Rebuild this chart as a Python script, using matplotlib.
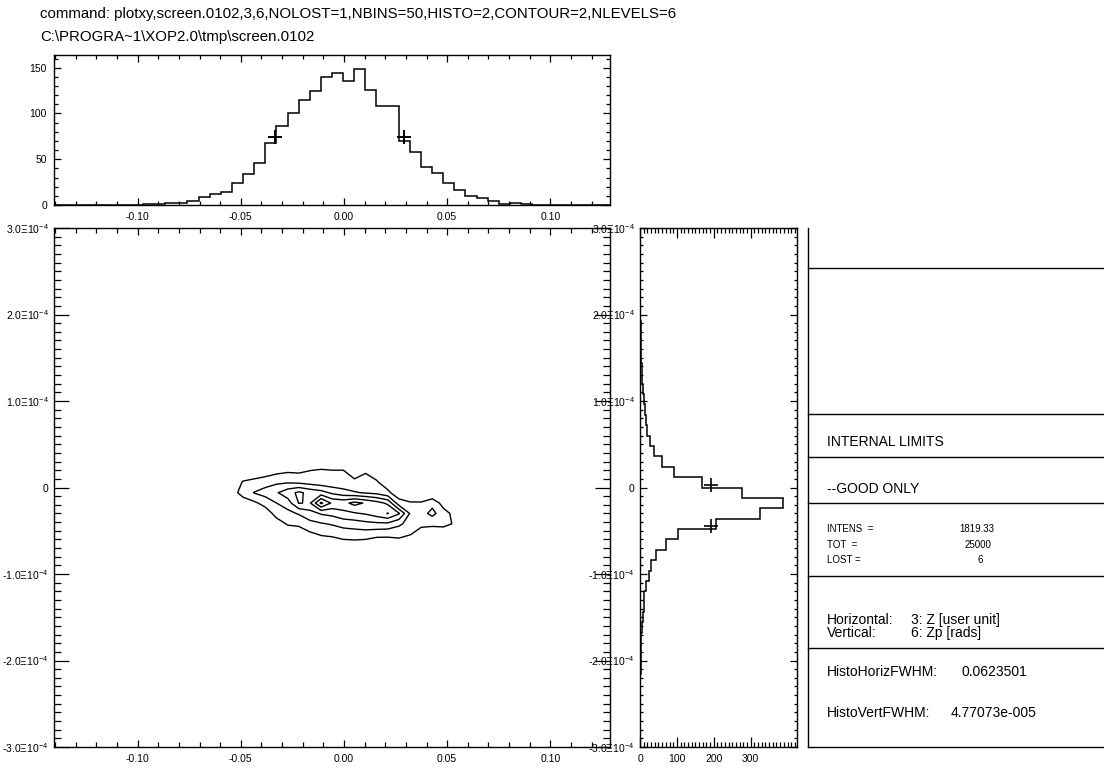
import numpy as np
import matplotlib
matplotlib.use("Agg")
import matplotlib.pyplot as plt
from matplotlib.ticker import MultipleLocator, FuncFormatter, FixedLocator

plt.rcParams['font.family'] = ['Liberation Sans', 'DejaVu Sans']
plt.rcParams['axes.unicode_minus'] = False
plt.rcParams['mathtext.fontset'] = 'custom'
plt.rcParams['mathtext.rm'] = 'Liberation Sans'
plt.rcParams['mathtext.it'] = 'Liberation Sans:italic'
plt.rcParams['mathtext.bf'] = 'Liberation Sans:bold'
plt.rcParams['mathtext.default'] = 'regular'

W, H = 1104, 772

# ---------------- data ----------------
command_line = "command: plotxy,screen.0102,3,6,NOLOST=1,NBINS=50,HISTO=2,CONTOUR=2,NLEVELS=6"
file_line = "C:\\PROGRA~1\\XOP2.0\\tmp\\screen.0102"

z_limits = (-0.1405, 0.1289)     # column 3: Z [user unit]
zp_limits = (-3.0e-4, 3.0e-4)    # column 6: Zp [rads]
n_bins = 50

# histogram of Z (50 bins across z_limits)
horiz_counts = [0, 0, 0, 0, 0, 0, 0, 0, 1, 1,
                2, 2.5, 4, 9, 12, 14, 24, 34, 46, 68,
                86, 101, 115, 125, 140, 144, 135, 149, 126, 108,
                108, 70, 58, 41, 35, 24, 16, 10, 8, 4,
                1, 2, 1, 0, 0, 0, 0, 0, 0, 0]

# histogram of Zp (50 bins across zp_limits, bottom to top)
vert_counts = [0, 0, 0, 0, 0, 0, 1, 2, 3, 3,
               4, 6, 7, 10, 12, 17, 24, 31, 43, 71,
               102, 206, 325, 387, 276, 169, 93, 60, 38, 28,
               19, 15, 13, 10, 9, 6, 6, 3, 3, 2,
               2, 1, 0, 0, 0, 0, 0, 0, 0, 0]

horiz_fwhm = 0.0623501
vert_fwhm = 4.77073e-05
horiz_fwhm_start = -0.0334
vert_fwhm_top = 0.03e-4

# 2D intensity map (binned Z vs Zp), one list per Z column, Zp from top to bottom
z_centers = -0.0596 + 0.00539 * np.arange(23)
zp_centers = 0.42e-4 - 0.12e-4 * np.arange(11)
intensity_columns = [
    [0, 0, 0, 0, 0, 0, 0, 0, 0, 0, 0],
    [0, 0, 0, 3, 6, 0, 0, 0, 0, 0, 0],
    [0, 0, 3, 11, 14, 5, 0, 0, 0, 0, 0],
    [0, 0, 4, 13, 20.5, 8, 0, 0, 0, 0, 0],
    [0, 0, 5, 16, 24, 14, 4, 0, 0, 0, 0],
    [0, 0, 8, 18, 29, 20, 14, 5, 0, 0, 0],
    [0, 2, 9.5, 19, 36, 25, 17, 11, 3, 0, 0],
    [0, 2, 9, 18, 42, 40.5, 21, 12, 4, 0, 0],
    [0, 3, 11, 16, 37, 39, 26, 17, 8, 2, 0],
    [0, 4, 12, 14, 34, 62, 31, 19, 11, 3, 0],
    [0, 5, 11, 13, 28, 48, 33, 21, 12, 4, 0],
    [0, 5, 11, 13, 24, 47, 37, 24, 14, 6, 0],
    [0, 2, 6, 12, 21, 53, 39, 25, 15, 6, 0],
    [0, 3, 9.5, 13, 19, 49, 41, 27, 15, 5, 0],
    [0, 2, 6, 11, 17, 44, 45, 28, 13, 3, 0],
    [0, 0, 2, 5, 12, 38, 50.5, 28, 12, 5, 0],
    [0, 0, 0, 2, 4, 14, 41, 22, 13, 5, 0],
    [0, 0, 0, 0, 2, 11, 19, 16, 10.5, 3, 0],
    [0, 0, 0, 0, 1, 11, 16, 12, 6, 0, 0],
    [0, 0, 0, 0, 0, 17, 23, 12, 4, 0, 0],
    [0, 0, 0, 0, 0, 6, 14, 13, 3, 0, 0],
    [0, 0, 0, 0, 0, 0, 7, 9, 0, 0, 0],
    [0, 0, 0, 0, 0, 0, 0, 0, 0, 0, 0],
]
contour_levels = [10, 20, 30, 40, 50, 60]

intens_value = "1819.33"
tot_value = "25000"
lost_value = "6"
horiz_label = "3: Z [user unit]"
vert_label = "6: Zp [rads]"
vert_fwhm_text = "4.77073e-005"

# ---------------- figure ----------------
fig = plt.figure(figsize=(W / 100, H / 100), dpi=100)
fig.patch.set_facecolor('white')


def px_axes(x0, y0, x1, y1):
    return fig.add_axes([x0 / W, 1 - y1 / H, (x1 - x0) / W, (y1 - y0) / H])


def z_fmt(v, pos):
    return f"{v:.2f}"


def zp_fmt(v, pos):
    m = v / 1e-4
    if abs(m) < 1e-9:
        return "0"
    return f"{m:.1f}Ξ10$^{{-4}}$"


tick_fs = 7.5
frame_lw = 1.0

fig.text(40 / W, 1 - 14 / H, command_line, fontsize=10.8, va='center', ha='left')
fig.text(40 / W, 1 - 37 / H, file_line, fontsize=10.8, va='center', ha='left')

# ---- top histogram (Z) ----
ax_h = px_axes(54, 55, 610, 205)
z_edges = np.linspace(z_limits[0], z_limits[1], n_bins + 1)
ax_h.stairs(horiz_counts, z_edges, color='black', lw=1.1)
h_peak = max(horiz_counts)
ax_h.plot([horiz_fwhm_start, horiz_fwhm_start + horiz_fwhm], [h_peak / 2] * 2,
          linestyle='none', marker='+', ms=10, mew=1.4, color='black')
ax_h.set_xlim(z_limits)
ax_h.set_ylim(0, 1.1 * h_peak)
ax_h.xaxis.set_major_locator(MultipleLocator(0.05))
ax_h.xaxis.set_minor_locator(MultipleLocator(0.01))
ax_h.xaxis.set_major_formatter(FuncFormatter(z_fmt))
ax_h.yaxis.set_major_locator(MultipleLocator(50))
ax_h.yaxis.set_minor_locator(MultipleLocator(10))
ax_h.tick_params(which='both', direction='in', top=True, right=True,
                 labelsize=tick_fs, width=0.9)
ax_h.tick_params(which='major', length=5, pad=5)
ax_h.tick_params(which='minor', length=3)

# ---- main contour plot ----
ax_m = px_axes(54, 228, 610, 747)
grid = np.array(intensity_columns).T
ax_m.contour(z_centers, zp_centers[::-1], grid[::-1], levels=contour_levels,
             colors='black', linewidths=1.0)
ax_m.set_xlim(z_limits)
ax_m.set_ylim(zp_limits)
ax_m.xaxis.set_major_locator(MultipleLocator(0.05))
ax_m.xaxis.set_minor_locator(MultipleLocator(0.01))
ax_m.xaxis.set_major_formatter(FuncFormatter(z_fmt))
ax_m.yaxis.set_major_locator(MultipleLocator(1e-4))
ax_m.yaxis.set_minor_locator(MultipleLocator(0.1e-4))
ax_m.yaxis.set_major_formatter(FuncFormatter(zp_fmt))
ax_m.tick_params(which='both', direction='in', top=True, right=True,
                 labelsize=tick_fs, width=0.9)
ax_m.tick_params(axis='x', which='major', length=5, pad=5)
ax_m.tick_params(axis='x', which='minor', length=3.5)
ax_m.tick_params(axis='y', which='major', length=11, pad=4)
ax_m.tick_params(axis='y', which='minor', length=5)

# ---- side histogram (Zp) ----
ax_s = px_axes(640, 228, 797, 747)
zp_edges = np.linspace(zp_limits[0], zp_limits[1], n_bins + 1)
ax_s.stairs(vert_counts, zp_edges, orientation='horizontal', color='black', lw=1.1)
v_peak = max(vert_counts)
ax_s.plot([v_peak / 2] * 2, [vert_fwhm_top, vert_fwhm_top - vert_fwhm],
          linestyle='none', marker='+', ms=10, mew=1.2, color='black')
ax_s.set_xlim(0, 1.1 * v_peak)
ax_s.set_ylim(zp_limits)
ax_s.xaxis.set_major_locator(FixedLocator([0, 100, 200, 300]))
ax_s.xaxis.set_minor_locator(MultipleLocator(10))
ax_s.yaxis.set_major_locator(MultipleLocator(1e-4))
ax_s.yaxis.set_minor_locator(MultipleLocator(0.1e-4))
ax_s.yaxis.set_major_formatter(FuncFormatter(zp_fmt))
ax_s.tick_params(which='both', direction='in', top=True, right=True,
                 labelsize=tick_fs, width=0.9)
ax_s.tick_params(axis='x', which='major', length=7, pad=5)
ax_s.tick_params(axis='x', which='minor', length=3.5)
ax_s.tick_params(axis='y', which='major', length=5, pad=4)
ax_s.tick_params(axis='y', which='minor', length=2.5)

for ax in (ax_h, ax_m, ax_s):
    for sp in ax.spines.values():
        sp.set_linewidth(frame_lw)

# ---- info panel ----
ax_i = px_axes(807, 228, W, 747)
ax_i.set_xlim(807, W)
ax_i.set_ylim(747, 228)
ax_i.axis('off')
ax_i.plot([807.5, 807.5], [228, 747], color='black', lw=1.0, clip_on=False)
for yline in (268, 414, 457, 503, 576, 648, 746.5):
    ax_i.plot([807.5, W], [yline, yline], color='black', lw=1.0, clip_on=False)

big_fs = 10
small_fs = 7
ax_i.text(827, 442, "INTERNAL LIMITS", fontsize=big_fs, va='center')
ax_i.text(827, 489, "--GOOD ONLY", fontsize=big_fs, va='center')
ax_i.text(827, 529, "INTENS  =", fontsize=small_fs, va='center')
ax_i.text(827, 545, "TOT  =", fontsize=small_fs, va='center')
ax_i.text(827, 560, "LOST =", fontsize=small_fs, va='center')
ax_i.text(977, 529, intens_value, fontsize=small_fs, va='center', ha='center')
ax_i.text(978, 545, tot_value, fontsize=small_fs, va='center', ha='center')
ax_i.text(980, 560, lost_value, fontsize=small_fs, va='center', ha='center')
ax_i.text(827, 620, "Horizontal:", fontsize=big_fs, va='center')
ax_i.text(911, 620, horiz_label, fontsize=big_fs, va='center')
ax_i.text(827, 633, "Vertical:", fontsize=big_fs, va='center')
ax_i.text(911, 633, vert_label, fontsize=big_fs, va='center')
ax_i.text(827, 672, "HistoHorizFWHM:", fontsize=big_fs, va='center')
ax_i.text(962, 672, f"{horiz_fwhm:g}", fontsize=big_fs, va='center')
ax_i.text(827, 713, "HistoVertFWHM:", fontsize=big_fs, va='center')
ax_i.text(951, 713, vert_fwhm_text, fontsize=big_fs, va='center')

fig.savefig("out.png", dpi=100, facecolor='white')
